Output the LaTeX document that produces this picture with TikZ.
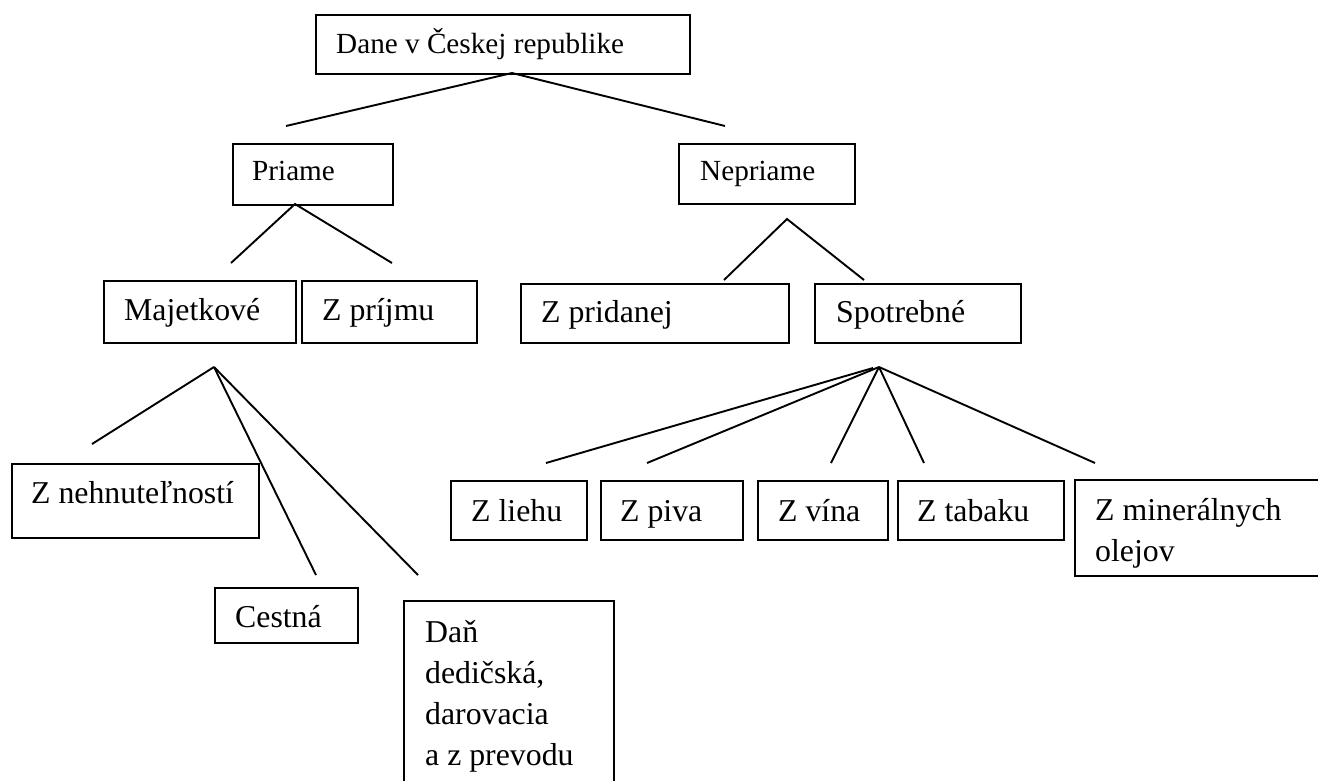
\documentclass[tikz,border=0pt]{standalone}
\usepackage{fontspec}
\setmainfont{Liberation Serif}
\newcommand\fsa{\fontsize{29.2}{35}\selectfont}
\newcommand\fsb{\fontsize{31.8}{41}\selectfont}
\tikzset{
  box/.style={draw, line width=1.9pt, rectangle, inner sep=0pt, anchor=north west},
  lbl/.style={anchor=base west, inner sep=0pt, font=\fsb},
  lbla/.style={anchor=base west, inner sep=0pt, font=\fsa},
  conn/.style={line width=1.9pt}
}
\begin{document}
\begin{tikzpicture}[x=1pt,y=-1pt]
\useasboundingbox (0,0) rectangle (1318,780);
\clip (0,0) rectangle (1318,780);
% boxes
\node[box, minimum width=374pt, minimum height=59pt] (top) at (315,14) {};
\node[lbla] (ttop) at (336,53) {Dane v Českej republike};
\node[box, minimum width=160pt, minimum height=61pt] (pri) at (232,143) {};
\node[lbla] (tpri) at (252,180) {Priame};
\node[box, minimum width=176pt, minimum height=60pt] (nep) at (678,143) {};
\node[lbla] (tnep) at (700,180) {Nepriame};
\node[box, minimum width=192pt, minimum height=62pt] (maj) at (103,280) {};
\node[lbl] (tmaj) at (124,320) {Majetkové};
\node[box, minimum width=175pt, minimum height=62pt] (zpr) at (301,280) {};
\node[lbl] (tzpr) at (322,320) {Z príjmu};
\node[box, minimum width=268pt, minimum height=59pt] (zpd) at (520,283) {};
\node[lbl] (tzpd) at (541,322) {Z pridanej};
\node[box, minimum width=206pt, minimum height=59pt] (spo) at (814,283) {};
\node[lbl] (tspo) at (836,322) {Spotrebné};
\node[box, minimum width=247pt, minimum height=74pt] (neh) at (11,463) {};
\node[lbl] (tneh) at (31,503) {Z nehnuteľností};
\node[box, minimum width=143pt, minimum height=55pt] (ces) at (214,587) {};
\node[lbl] (tces) at (235,627) {Cestná};
\node[box, minimum width=210pt, minimum height=220pt] (dan) at (403,600) {};
\node[lbl] (tdan) at (425,642) {\parbox[t]{200pt}{\fsb Daň\\dedičská,\\darovacia\\a z prevodu}};
\node[box, minimum width=136pt, minimum height=59pt] (lie) at (450,480) {};
\node[lbl] (tlie) at (471,521) {Z liehu};
\node[box, minimum width=142pt, minimum height=59pt] (piv) at (600,480) {};
\node[lbl] (tpiv) at (620,521) {Z piva};
\node[box, minimum width=130pt, minimum height=59pt] (vin) at (757,480) {};
\node[lbl] (tvin) at (778,521) {Z vína};
\node[box, minimum width=166pt, minimum height=59pt] (tab) at (897,480) {};
\node[lbl] (ttab) at (917,521) {Z tabaku};
\node[box, minimum width=300pt, minimum height=96pt] (min) at (1074,479) {};
\node[lbl] (tmin) at (1095,520) {\parbox[t]{220pt}{\fsb Z minerálnych\\olejov}};
% connector points
\coordinate (aTop) at (512,73);
\coordinate (eTop1) at (286,126);
\coordinate (eTop2) at (725,126);
\coordinate (aPri) at (295,204);
\coordinate (ePri1) at (231,263);
\coordinate (ePri2) at (392,263);
\coordinate (aNep) at (787,219);
\coordinate (eNep1) at (724,280);
\coordinate (eNep2) at (864,280);
\coordinate (aMaj) at (214,367);
\coordinate (eMaj1) at (92,444);
\coordinate (eMaj2) at (316,575);
\coordinate (eMaj3) at (418,575);
\coordinate (aSpo) at (879,367);
\coordinate (aSpoL) at (873,368);
\coordinate (eSpo1) at (546,463);
\coordinate (eSpo2) at (647,463);
\coordinate (eSpo3) at (831,463);
\coordinate (eSpo4) at (924,463);
\coordinate (eSpo5) at (1095,463);
% connectors
\draw[conn] (eTop1) -- (aTop) -- (eTop2);
\draw[conn] (ePri1) -- (aPri) -- (ePri2);
\draw[conn] (eNep1) -- (aNep) -- (eNep2);
\draw[conn] (aMaj) -- (eMaj1);
\draw[conn] (aMaj) -- (eMaj2);
\draw[conn] (aMaj) -- (eMaj3);
\draw[conn] (aSpoL) -- (eSpo1);
\draw[conn] (aSpo) -- (eSpo2);
\draw[conn] (aSpo) -- (eSpo3);
\draw[conn] (aSpo) -- (eSpo4);
\draw[conn] (aSpo) -- (eSpo5);
\end{tikzpicture}
\end{document}
